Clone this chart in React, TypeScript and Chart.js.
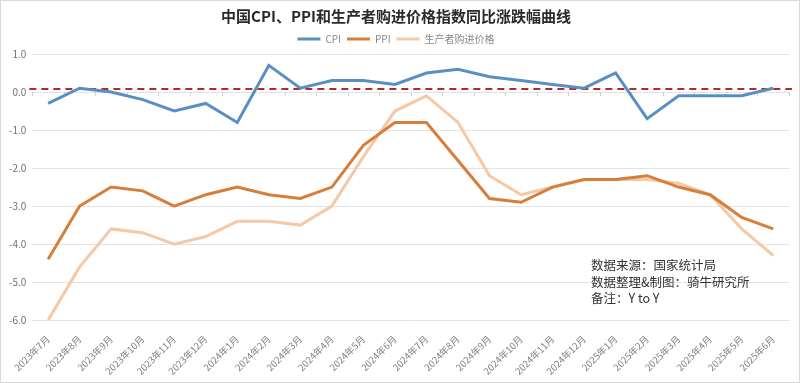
import React, { useEffect, useRef } from "react";
import { Chart, registerables } from "chart.js";

Chart.register(...registerables);

const months: string[] = [
  "2023年7月", "2023年8月", "2023年9月", "2023年10月", "2023年11月", "2023年12月",
  "2024年1月", "2024年2月", "2024年3月", "2024年4月", "2024年5月", "2024年6月",
  "2024年7月", "2024年8月", "2024年9月", "2024年10月", "2024年11月", "2024年12月",
  "2025年1月", "2025年2月", "2025年3月", "2025年4月", "2025年5月", "2025年6月",
];

const cpi: number[] = [
  -0.3, 0.1, 0.0, -0.2, -0.5, -0.3, -0.8, 0.7, 0.1, 0.3, 0.3, 0.2,
  0.5, 0.6, 0.4, 0.3, 0.2, 0.1, 0.5, -0.7, -0.1, -0.1, -0.1, 0.1,
];

const ppi: number[] = [
  -4.4, -3.0, -2.5, -2.6, -3.0, -2.7, -2.5, -2.7, -2.8, -2.5, -1.4, -0.8,
  -0.8, -1.8, -2.8, -2.9, -2.5, -2.3, -2.3, -2.2, -2.5, -2.7, -3.3, -3.6,
];

const purchase: number[] = [
  -6.0, -4.6, -3.6, -3.7, -4.0, -3.8, -3.4, -3.4, -3.5, -3.0, -1.7, -0.5,
  -0.1, -0.8, -2.2, -2.7, -2.5, -2.3, -2.3, -2.3, -2.4, -2.7, -3.6, -4.3,
];

const referenceLevel = 0.08;
const titleText = "中国CPI、PPI和生产者购进价格指数同比涨跌幅曲线";
const noteLines: string[] = ["数据来源：国家统计局", "数据整理&制图：骑牛研究所", "备注：Y to Y"];

const CJK = "'Noto Sans CJK SC', 'Noto Sans', sans-serif";

export default function App() {
  const ref = useRef<HTMLCanvasElement | null>(null);

  useEffect(() => {
    document.body.style.margin = "0";
    const canvas = ref.current;
    if (!canvas) return;

    const overlay = {
      id: "overlay",
      beforeDatasetsDraw(chart: any) {
        const { ctx, chartArea, scales } = chart;
        const y0 = scales.y.getPixelForValue(0);
        const n = months.length;
        const w = (chartArea.right - chartArea.left) / n;
        ctx.save();
        ctx.strokeStyle = "#d0d0d0";
        ctx.lineWidth = 1;
        for (let i = 0; i <= n; i++) {
          const x = Math.round(chartArea.left + i * w) + 0.5;
          ctx.beginPath();
          ctx.moveTo(x, y0);
          ctx.lineTo(x, y0 + 4);
          ctx.stroke();
        }
        const yr = scales.y.getPixelForValue(referenceLevel);
        ctx.strokeStyle = "#b22a2a";
        ctx.lineWidth = 2;
        ctx.setLineDash([7, 5]);
        ctx.beginPath();
        ctx.moveTo(chartArea.left - 3, yr);
        ctx.lineTo(chartArea.right + 3, yr);
        ctx.stroke();
        ctx.restore();
      },
      afterDraw(chart: any) {
        const { ctx } = chart;
        ctx.save();
        ctx.font = `12.5px ${CJK}`;
        ctx.fillStyle = "#333";
        ctx.textBaseline = "middle";
        ctx.textAlign = "left";
        const ys = [264, 281, 297];
        noteLines.forEach((t, i) => ctx.fillText(t, 590, ys[i]));
        ctx.restore();
      },
    };

    const chart = new Chart(canvas, {
      type: "line",
      data: {
        labels: months,
        datasets: [
          { label: "CPI", data: cpi, borderColor: "#5a8fc3", backgroundColor: "#5a8fc3", borderWidth: 3, pointRadius: 0, tension: 0 },
          { label: "PPI", data: ppi, borderColor: "#d67e3a", backgroundColor: "#d67e3a", borderWidth: 3, pointRadius: 0, tension: 0 },
          { label: "生产者购进价格", data: purchase, borderColor: "#f5c8a6", backgroundColor: "#f5c8a6", borderWidth: 3, pointRadius: 0, tension: 0 },
        ],
      },
      options: {
        animation: false,
        responsive: false,
        maintainAspectRatio: false,
        layout: { padding: { left: 2, right: 10, top: 0, bottom: 0 } },
        plugins: {
          title: {
            display: true,
            text: titleText,
            color: "#2a2a2a",
            font: { family: CJK, size: 15, weight: "bold" },
            padding: { top: 6, bottom: 3 },
          },
          legend: {
            display: true,
            position: "top",
            labels: {
              boxWidth: 23,
              boxHeight: 3,
              padding: 6,
              color: "#888",
              font: { family: CJK, size: 10 },
              generateLabels(chart: any) {
                return chart.data.datasets.map((d: any, i: number) => ({
                  text: d.label,
                  fillStyle: d.borderColor,
                  strokeStyle: d.borderColor,
                  lineWidth: 0,
                  hidden: false,
                  datasetIndex: i,
                  fontColor: "#888",
                }));
              },
            },
          },
          tooltip: { enabled: false },
        },
        scales: {
          x: {
            offset: true,
            grid: { display: false },
            border: { display: false },
            ticks: {
              color: "#808080",
              font: { family: CJK, size: 9.5 },
              minRotation: 45,
              maxRotation: 45,
              autoSkip: false,
              padding: 5,
            },
          },
          y: {
            min: -6,
            max: 1,
            grid: { color: "#e3e3e3", drawTicks: false },
            border: { display: false },
            ticks: {
              stepSize: 1,
              color: "#707070",
              font: { family: CJK, size: 10 },
              padding: 6,
              callback: (v: any) => Number(v).toFixed(1),
            },
          },
        },
      },
      plugins: [overlay],
    });

    return () => chart.destroy();
  }, []);

  return (
    <div style={{ width: 800, height: 383, position: "relative", background: "#fff", boxSizing: "border-box", border: "1px solid #d9d9d9" }}>
      <canvas ref={ref} width={798} height={381} style={{ display: "block" }} />
    </div>
  );
}
